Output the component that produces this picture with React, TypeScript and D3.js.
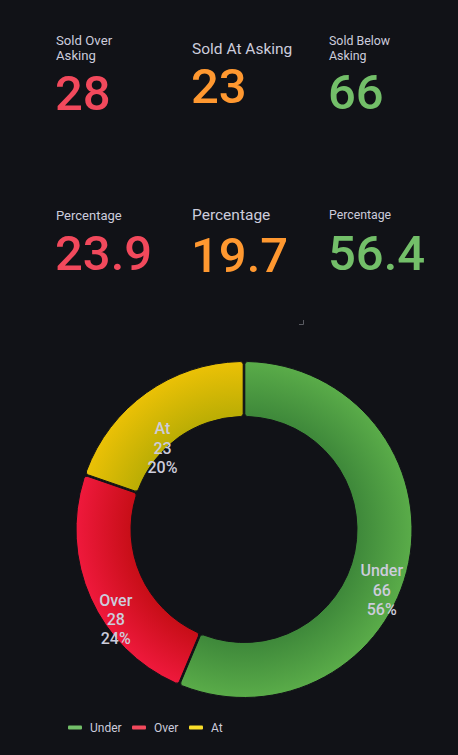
import React from 'react';
import * as d3 from 'd3';

const W = 458;
const H = 755;
const BG = '#111217';
const TEXT = '#ccccdc';
const FONT = 'Roboto, "Noto Sans", sans-serif';

// Pie data
const categories = ['Under', 'Over', 'At'];
const counts = [66, 28, 23];
const sliceColors = ['#73BF69', '#F2495C', '#FADE2A'];

// Stat panels
const statTitles = [['Sold Over', 'Asking'], ['Sold At Asking'], ['Sold Below', 'Asking']];
const statValues = ['28', '23', '66'];
const statColors = ['#F2495C', '#FF9830', '#73BF69'];
const pctTitles = ['Percentage', 'Percentage', 'Percentage'];
const pctValues = ['23.9', '19.7', '56.4'];

// layout (not data)
const colX = [56, 192, 329];
const valX = [55, 191, 328];
const titleSize = [13.2, 15.5, 12.4];
const titleBase = [[44.5, 59.5], [53.5], [44.5, 59.5]];
const valBase = [109.5, 103, 108.5];
const pctTitleSize = [13, 15.5, 12.3];
const pctTitleBase = [219.5, 220, 218.5];
const pctValBase = [270, 271.5, 270];

function darkenSpin(c: string, amt: number, spin: number) {
  const h = d3.hsl(c);
  h.l = Math.max(0, h.l - amt);
  h.h = (h.h + spin + 360) % 360;
  return h.formatRgb();
}

export default function App() {
  const cx = 244;
  const cy = 529.5;
  const outerR = 168;
  const innerR = 113;
  const data = categories.map((c, i) => ({ name: c, value: counts[i], color: sliceColors[i] }));
  const total = d3.sum(counts);
  const pie = d3.pie<any>().sort(null).value((d: any) => d.value).padAngle(0.008);
  const arcs = pie(data);
  const arc = d3.arc<any>().innerRadius(innerR).outerRadius(outerR).cornerRadius(3);
  const labelArc = d3.arc<any>().innerRadius(innerR).outerRadius(outerR);

  const legendX = [68, 132, 189];

  return (
    <svg width={W} height={H} style={{ position: 'absolute', left: 0, top: 0, background: BG, fontFamily: FONT }}>
      <rect x={0} y={0} width={W} height={H} fill={BG} />
      <defs>
        {data.map((d, i) => (
          <radialGradient key={i} id={`grad${i}`} gradientUnits="userSpaceOnUse" cx={0} cy={0} r={outerR}>
            <stop offset={innerR / outerR} stopColor={darkenSpin(d.color, 0.2, 4)} />
            <stop offset={1} stopColor={darkenSpin(d.color, 0.1, -3)} />
          </radialGradient>
        ))}
      </defs>

      {/* Stat titles and values */}
      {statTitles.map((lines, i) => (
        <g key={'t' + i}>
          {lines.map((l, j) => (
            <text key={j} x={colX[i]} y={titleBase[i][j]} fill={TEXT} fontSize={titleSize[i]} fontWeight={400}>{l}</text>
          ))}
          <text x={valX[i]} y={valBase[i]} fill={statColors[i]} fontSize={49} fontWeight={500}>{statValues[i]}</text>
        </g>
      ))}
      {pctTitles.map((t, i) => (
        <g key={'p' + i}>
          <text x={colX[i]} y={pctTitleBase[i]} fill={TEXT} fontSize={pctTitleSize[i]} fontWeight={400}>{t}</text>
          <text x={valX[i]} y={pctValBase[i]} fill={statColors[i]} fontSize={49} fontWeight={500}>{pctValues[i]}</text>
        </g>
      ))}

      {/* resize handle */}
      <path d="M303.5,320 V324.5 H299" stroke="#5a5b62" strokeWidth={1} fill="none" />

      {/* Donut */}
      <g transform={`translate(${cx},${cy})`}>
        {arcs.map((a, i) => (
          <path key={i} d={arc(a) || ''} fill={`url(#grad${i})`} stroke={BG} strokeWidth={1} />
        ))}
        {arcs.map((a, i) => {
          const [lx, ly] = labelArc.centroid(a);
          const pct = Math.round((a.data.value / total) * 100);
          return (
            <text key={'l' + i} x={lx} y={ly} fill={TEXT} fontSize={16} fontWeight={500} textAnchor="middle">
              <tspan x={lx} dy="1.2em">{a.data.name}</tspan>
              <tspan x={lx} dy="1.2em">{a.data.value}</tspan>
              <tspan x={lx} dy="1.2em">{pct}%</tspan>
            </text>
          );
        })}
      </g>

      {/* Legend */}
      {data.map((d, i) => (
        <g key={'lg' + i}>
          <rect x={legendX[i]} y={725.5} width={14} height={4} rx={1} fill={d.color} />
          <text x={legendX[i] + 22} y={731.5} fill={TEXT} fontSize={12}>{d.name}</text>
        </g>
      ))}
    </svg>
  );
}
